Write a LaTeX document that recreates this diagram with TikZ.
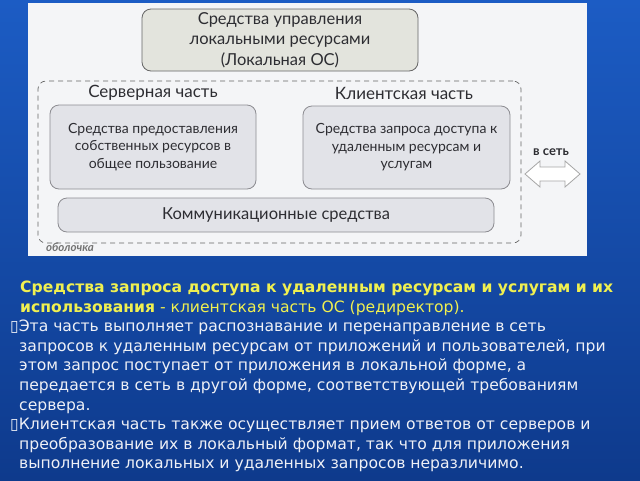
\documentclass[tikz,border=0pt]{standalone}
\usepackage{fontspec}
\setmainfont{DejaVu Sans}
\newfontfamily\diafont{Lato}
\newfontfamily\bodyfont{DejaVu Sans}
\newfontfamily\symfont{DejaVu Sans}
\definecolor{bgtop}{RGB}{28,92,196}
\definecolor{bgbot}{RGB}{14,58,140}
\definecolor{panelc}{RGB}{244,245,247}
\definecolor{topfill}{RGB}{227,228,221}
\definecolor{boxfill}{RGB}{226,227,232}
\definecolor{boxline}{RGB}{140,140,145}
\definecolor{diatext}{RGB}{45,45,50}
\definecolor{yel}{RGB}{240,240,80}
\definecolor{bodyc}{RGB}{238,240,246}
\tikzset{
  diabox/.style={draw=boxline, line width=0.8pt, fill=boxfill, rounded corners=9pt, align=center, text=diatext, font=\diafont\fontsize{14}{17.5}\selectfont, inner sep=0pt},
  toptxt/.style={diabox, fill=topfill, draw=black!60, font=\diafont\fontsize{16.5}{20.5}\selectfont},
  headtxt/.style={text=diatext, font=\diafont\fontsize{17}{19}\selectfont, inner sep=0pt},
  bodyline/.style={anchor=base west, inner sep=0pt, text=bodyc, font=\bodyfont\fontsize{15.6}{18}\selectfont},
  yelline/.style={bodyline, text=yel},
}
\begin{document}
\begin{tikzpicture}[x=1pt,y=-1pt]
\useasboundingbox (0,0) rectangle (640,480);
\fill[top color=bgtop, bottom color=bgbot] (0,0) rectangle (640,480);
\fill[panelc] (28,3) rectangle (587,256);
% diagram
\node[toptxt, minimum width=276pt, minimum height=62pt] (top) at (280,40) {Средства управления\\локальными ресурсами\\(Локальная ОС)};
\node[draw=black!60, dashed, dash pattern=on 5pt off 4pt, line width=0.7pt, rounded corners=8pt, minimum width=483pt, minimum height=162pt, inner sep=0pt] (shell) at (279.5,162) {};
\node[headtxt] (srvhead) at (153,93) {Серверная часть};
\node[headtxt] (clihead) at (404,93) {Клиентская часть};
\node[diabox, minimum width=206pt, minimum height=84pt] (srv) at (153,147) {Средства предоставления\\собственных ресурсов в\\общее пользование};
\node[diabox, minimum width=207pt, minimum height=83pt] (cli) at (406.5,147.5) {Средства запроса доступа к\\удаленным ресурсам и\\услугам};
\node[diabox, minimum width=436pt, minimum height=34pt, font=\diafont\fontsize{16.5}{18}\selectfont] (comm) at (276,215) {Коммуникационные средства};
\node[text=diatext, font=\diafont\bfseries\fontsize{13}{14}\selectfont, inner sep=0pt] (net) at (551,152) {в сеть};
\node[text=black!55, font=\diafont\itshape\bfseries\fontsize{11.5}{12}\selectfont, inner sep=0pt] (shelllbl) at (70,247) {оболочка};
\filldraw[fill=white, draw=black!35, line width=0.8pt, line join=miter]
  (525,174) -- (540,161) -- (540,167) -- (565,167) -- (565,161) -- (580,174)
  -- (565,187) -- (565,181) -- (540,181) -- (540,187) -- cycle;
% text
\node[yelline, font=\bodyfont\bfseries\fontsize{15.6}{18}\selectfont] (l1) at (20,292.5) {Средства запроса доступа к удаленным ресурсам и услугам и их};
\node[yelline] (l2) at (20,312.1) {\textbf{использования} - клиентская часть ОС (редиректор).};
\node[bodyline] (l3) at (10,331.7) {{\symfont▯}Эта часть выполняет распознавание и перенаправление в сеть};
\node[bodyline] (l4) at (19,351.3) {запросов к удаленным ресурсам от приложений и пользователей, при};
\node[bodyline] (l5) at (19,370.9) {этом запрос поступает от приложения в локальной форме, а};
\node[bodyline] (l6) at (19,390.5) {передается в сеть в другой форме, соответствующей требованиям};
\node[bodyline] (l7) at (19,410.1) {сервера.};
\node[bodyline] (l8) at (10,429.7) {{\symfont▯}Клиентская часть также осуществляет прием ответов от серверов и};
\node[bodyline] (l9) at (19,449.3) {преобразование их в локальный формат, так что для приложения};
\node[bodyline] (l10) at (19,468.9) {выполнение локальных и удаленных запросов неразличимо.};
\end{tikzpicture}
\end{document}
